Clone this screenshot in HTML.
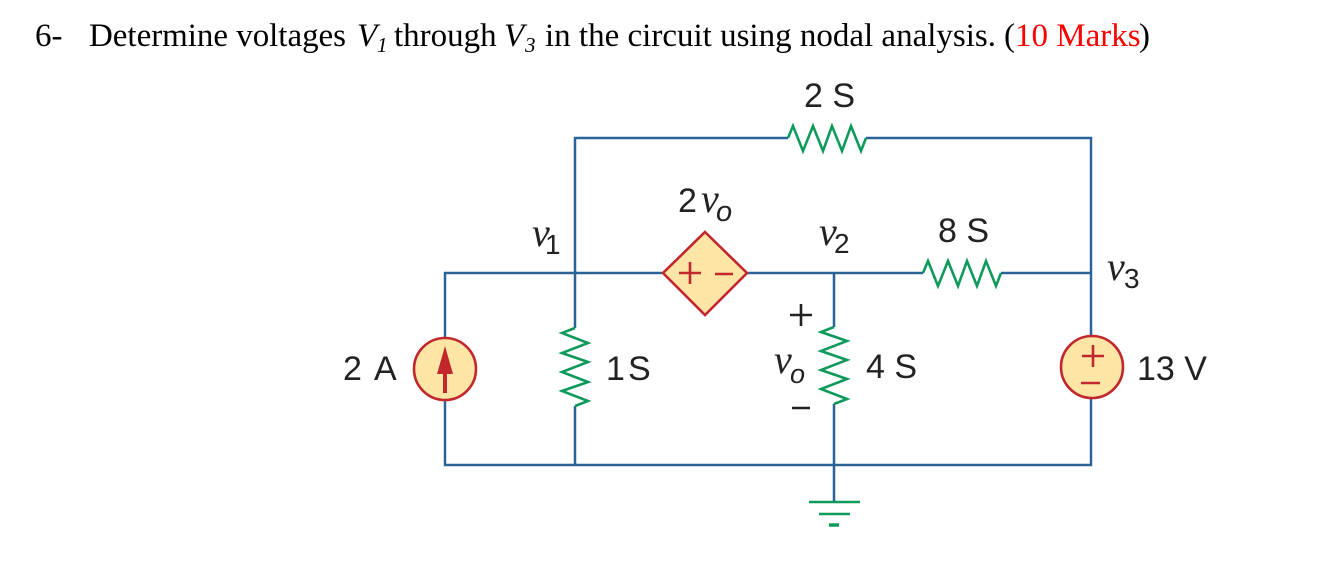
<!DOCTYPE html>
<html><head><meta charset="utf-8"><style>
html,body{margin:0;padding:0;background:#fff;width:1334px;height:567px;overflow:hidden}
svg{display:block}
.t{font-family:"Liberation Serif",serif;font-size:33px;fill:#000}
.i{font-style:italic}
.u{font-style:italic;font-size:21px}
.s{font-family:"Liberation Sans",sans-serif;font-size:34px;fill:#222}
.v{font-family:"Liberation Serif",serif;font-style:italic;font-size:40px;fill:#222}
.w{stroke:#2a6398;stroke-width:2.5;fill:none}
.g{stroke:#0f9a5c;stroke-width:2.6;fill:none;stroke-linejoin:miter}
.r{stroke:#c1272d;stroke-width:2.6;fill:#fde5a5}
.m{stroke:#c1272d;stroke-width:2.6;fill:none}
.k{stroke:#222;stroke-width:2.6;fill:none}
</style></head><body>
<svg width="1334" height="567" viewBox="0 0 1334 567" xmlns="http://www.w3.org/2000/svg">
<text class="t" x="35" y="46">6-</text>
<text class="t" x="89" y="46" textLength="257" lengthAdjust="spacing">Determine voltages</text>
<text class="t i" x="357" y="46">V</text>
<text class="t u" x="377" y="52">1</text>
<text class="t" x="394" y="46">through</text>
<text class="t i" x="504" y="46">V</text>
<text class="t u" x="525" y="52">3</text>
<text class="t" x="545" y="46" textLength="451" lengthAdjust="spacing">in the circuit using nodal analysis.</text>
<text class="t" x="1004" y="46">(</text>
<text class="t" x="1015" y="46" style="fill:#f00">10 Marks</text>
<text class="t" x="1139" y="46">)</text>

<path class="w" d="M788 138H575V328M575 406V465M866 138H1091V336M1091 398V465H445V400M445 338V273H662M748 273H923M1001 273H1091M834 273V327M834 404V502"/>

<path class="g" d="M788 138L793 126L803 151L813 126L823 151L832 126L842 151L851 126L861 151L866 138"/>
<path class="g" d="M923 273L928 261L938 286L948 261L958 286L967 261L977 286L986 261L996 286L1001 273"/>
<path class="g" d="M575 328L562 333L588 343L562 353L588 362L562 372L588 382L562 391L588 401L575 406"/>
<path class="g" d="M834 327L821 332L847 341L821 351L847 360L821 370L847 379L821 389L847 399L834 404"/>
<path class="g" d="M809 502H860M819 514H850"/>
<path d="M829 525H839" stroke="#0f9a5c" stroke-width="3.5" fill="none"/>

<path class="r" d="M705 232L747 273L705 315L663 273Z"/>
<path class="m" d="M679 273H701M690 262V284M715 274H733"/>

<circle class="r" cx="445" cy="369" r="31"/>
<path d="M445 346L453 374H447V393H443V374H437Z" fill="#c1272d" stroke="none"/>

<circle class="r" cx="1092" cy="367" r="31"/>
<path class="m" d="M1082 356H1104M1093 345V367M1081 383H1100"/>

<text class="s" x="804" y="107">2 S</text>
<text class="s" x="938" y="242">8 S</text>
<text class="s" x="343" y="380">2</text>
<text class="s" x="374" y="380">A</text>
<text class="s" x="606" y="380">1</text>
<text class="s" x="628" y="380">S</text>
<text class="s" x="866" y="378">4 S</text>
<text class="s" x="1137" y="380">13 V</text>

<text class="s" x="678" y="212">2</text>
<text class="v" x="701" y="212">v</text>
<text class="s" x="716" y="221" style="font-size:29px;font-style:italic">o</text>
<text class="v" x="532" y="246">v</text>
<text class="s" x="545" y="254" style="font-size:28px">1</text>
<text class="v" x="819" y="245">v</text>
<text class="s" x="834" y="253" style="font-size:28px">2</text>
<text class="v" x="1107" y="280">v</text>
<text class="s" x="1124" y="288" style="font-size:28px">3</text>
<text class="v" x="774" y="373">v</text>
<text class="s" x="790" y="383" style="font-size:27px;font-style:italic">o</text>

<path class="k" d="M790 315H812M801 304V326M792 408H810"/>
</svg>
</body></html>
